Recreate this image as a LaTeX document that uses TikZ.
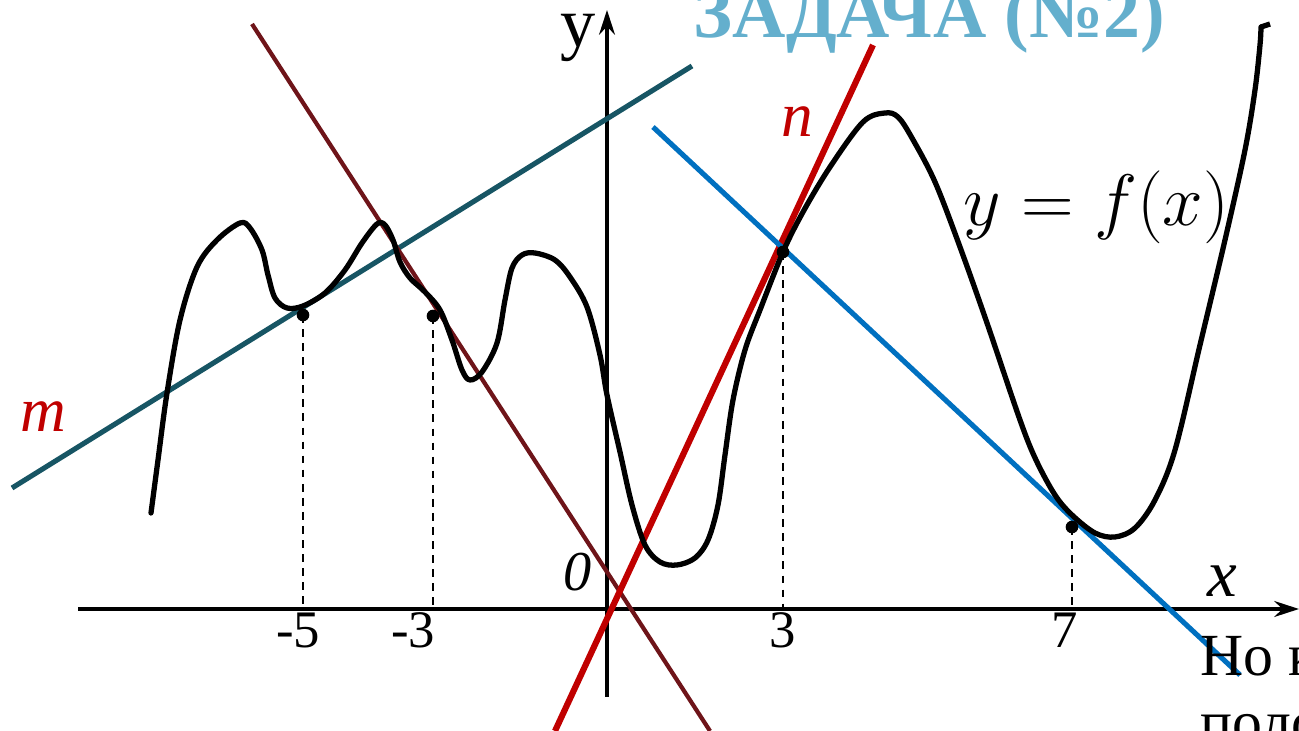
\documentclass[tikz,border=0pt]{standalone}
\usepackage{fontspec}
\setmainfont{Liberation Serif}
\usetikzlibrary{arrows.meta}
\definecolor{tealm}{RGB}{23,85,100}
\definecolor{maroonk}{RGB}{110,20,25}
\definecolor{redn}{RGB}{192,0,0}
\definecolor{bluel}{RGB}{0,112,192}
\definecolor{titleblue}{RGB}{100,175,205}
\newcommand{\fsz}[1]{\fontsize{#1}{1.15\dimexpr#1pt\relax}\selectfont}
\begin{document}
\begin{tikzpicture}[x=0.01cm,y=-0.01cm,
  axis/.style={line width=1pt,-{Stealth[length=7pt,width=4.5pt]}},
  tang/.style={line width=1.45pt},
  graph/.style={line width=1.5pt,line join=round,line cap=round},
  drop/.style={dashed,line width=0.45pt,dash pattern=on 2.2pt off 1.8pt},
  dot/.style={circle,fill,inner sep=0pt,minimum size=3.6pt},
  lbl/.style={anchor=base,inner sep=0pt}]
	\clip (0,0) rectangle (1299,731);
	% Title
	\node[lbl,anchor=base west,text=titleblue] (title) at (693,38) {\fsz{21}\bfseries ЗАДАЧА (№2)};
	% Axes
	\coordinate (xs) at (78,609);
	\coordinate (xe) at (1299,609);
	\coordinate (ys) at (607,697);
	\coordinate (ye) at (607,10);
	\draw[axis] (xs) -- (xe);
	\draw[axis] (ys) -- (ye);
	\node[lbl] (ylab) at (578,47) {\fsz{20}y};
	\node[lbl] (xlab) at (1222,597) {\fsz{19}\itshape x};
	\node[lbl] (olab) at (578,591) {\fsz{16}\itshape 0};
	% Tangent lines
	\coordinate (m1) at (12,488);
	\coordinate (m2) at (692,66);
	\coordinate (k1) at (252,24);
	\coordinate (k2) at (710,731);
	\coordinate (n1) at (555,731);
	\coordinate (n2) at (873,45);
	\coordinate (b1) at (653,127);
	\coordinate (b2) at (1240,675);
	\draw[tang,tealm] (m1) -- (m2);
	\draw[tang,maroonk,line width=1.2pt] (k1) -- (k2);
	\draw[tang,redn,line width=1.75pt] (n1) -- (n2);
	\draw[tang,bluel] (b1) -- (b2);
	\node[lbl,text=redn] (mlab) at (43,432) {\fsz{18}\itshape m};
	\node[lbl,text=redn] (nlab) at (797,137) {\fsz{18}\itshape n};
	% Graph of f
	\draw[graph] plot[smooth,tension=0.55] coordinates {
		(151,513) (158,460) (167,393) (180,320) (197,267) (217,240) (240,223)
		(250,228) (262,250) (268,275) (275,298) (287,308) (303,306) (325,293)
		(345,270) (362,243) (377,224) (385,225) (393,240) (400,262) (410,278)
		(425,292) (440,310) (452,340) (462,370) (470,380) (482,372) (497,343)
		(505,300) (512,268) (522,255) (535,253) (555,260) (570,277) (587,307)
		(600,355) (607,395) (620,452) (632,505) (645,545) (660,562) (677,565)
		(695,558) (708,540) (718,505) (725,455) (733,400) (745,350) (760,310)
		(783,252) (803,212) (830,167) (863,122) (885,113) (898,117) (912,138)
		(935,182) (960,247) (987,323) (1020,420) (1036,460) (1055,495) (1072,515)
		(1095,533) (1115,537) (1135,528) (1155,500) (1175,450) (1200,345)
		(1225,240) (1245,150) (1255,90) (1260,45) (1261,27)};
	\draw[graph,line cap=butt] (1261,27) -- (1270,24);
	\node[lbl,anchor=base west] (flab) at (963,226) {\fsz{20}$y=f(x)$};
	% Points and drops
	\coordinate (p1) at (303,315);
	\coordinate (p2) at (433,316);
	\coordinate (p3) at (783,252);
	\coordinate (p4) at (1072,527);
	\foreach \p in {p1,p2,p3,p4} {
		\node[dot] (\p d) at (\p) {};
		\draw[drop] (\p) -- (\p |- xs);
	}
	\node[lbl] (t1) at (298,648) {\fsz{15}-5};
	\node[lbl] (t2) at (413,648) {\fsz{15}-3};
	\node[lbl] (t3) at (783,648) {\fsz{15}3};
	\node[lbl] (t4) at (1065,648) {\fsz{15}7};
	% Text below
	\node[lbl,anchor=base west] (txt1) at (1200,676) {\fsz{17}Но к};
	\node[lbl,anchor=base west] (txt2) at (1200,743) {\fsz{17}поло};
\end{tikzpicture}
\end{document}
